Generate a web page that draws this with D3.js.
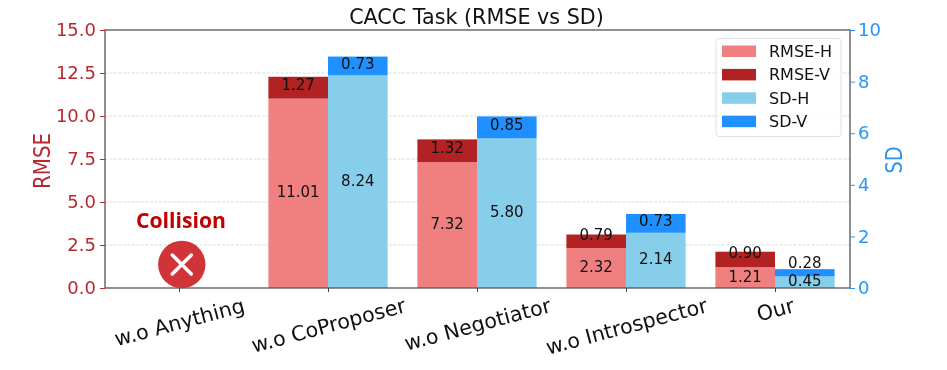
<!DOCTYPE html>
<html>
<head>
<meta charset="utf-8">
<style>
  html, body { margin: 0; padding: 0; background: #fff; }
  /* the reference is a soft, rescaled screenshot */
  svg { display: block; filter: blur(0.4px); }
  text { font-family: "DejaVu Sans", sans-serif; }
  .grid line { stroke: #dcdcdc; stroke-width: 1px; stroke-dasharray: 3,1.5; }
  .spine { fill: none; stroke: #555; stroke-width: 1.3px; }
</style>
</head>
<body>
<svg width="947" height="370"></svg>
<script src="https://d3js.org/d3.v7.min.js"></script>
<script>

var categories = ["w.o Anything", "w.o CoProposer", "w.o Negotiator", "w.o Introspector", "Our"];

// no bars for the first one, it collided
var rmseH = [null, 11.01, 7.32, 2.32, 1.21];
var rmseV = [null, 1.27, 1.32, 0.79, 0.90];
var sdH = [null, 8.24, 5.80, 2.14, 0.45];
var sdV = [null, 0.73, 0.85, 0.73, 0.28];

var rmseTicks = [0, 2.5, 5, 7.5, 10, 12.5, 15];
var sdTicks = [0, 2, 4, 6, 8, 10];

var legendLabels = ["RMSE-H", "RMSE-V", "SD-H", "SD-V"];
var legendColours = ["#f08080", "#b22222", "#87ceeb", "#1e90ff"];

var rmseColour = "#b8292f";
var sdColour = "#2b95f5";

var svg = d3.select("svg");

// plot edges (window.top is taken, so prefix them)
var plotLeft = 105, plotRight = 850, plotTop = 30, plotBottom = 288;

var x = d3.scaleLinear().domain([-0.5, 4.5]).range([plotLeft - 0.5, plotRight - 0.5]);
var yRmse = d3.scaleLinear().domain([0, 15]).range([plotBottom, plotTop]);
var ySd = d3.scaleLinear().domain([0, 10]).range([plotBottom, plotTop]);

var barWidth = 0.4;

// gridlines
svg.append("g")
    .attr("class", "grid")
    .selectAll("line")
    .data(rmseTicks.slice(1, -1))
    .enter().append("line")
    .attr("x1", plotLeft)
    .attr("x2", plotRight)
    .attr("y1", function(d) { return yRmse(d); })
    .attr("y2", function(d) { return yRmse(d); });

// draws one stacked pair of segments plus its labels
function drawStack(lower, upper, scale, offset, lowColour, upColour) {
  var g = svg.append("g");
  var idx = d3.range(categories.length).filter(function(i) { return lower[i] !== null; });

  g.selectAll(".low")
      .data(idx)
      .enter().append("rect")
      .attr("x", function(i) { return x(i + offset); })
      .attr("width", x(barWidth) - x(0))
      .attr("y", function(i) { return scale(lower[i]); })
      .attr("height", function(i) { return scale(0) - scale(lower[i]); })
      .style("fill", lowColour);

  g.selectAll(".up")
      .data(idx)
      .enter().append("rect")
      .attr("x", function(i) { return x(i + offset); })
      .attr("width", x(barWidth) - x(0))
      .attr("y", function(i) { return scale(lower[i] + upper[i]); })
      .attr("height", function(i) { return scale(lower[i]) - scale(lower[i] + upper[i]); })
      .style("fill", upColour);
}

drawStack(rmseH, rmseV, yRmse, -barWidth, legendColours[0], legendColours[1]);
drawStack(sdH, sdV, ySd, 0, legendColours[2], legendColours[3]);

// bar labels sit in the segment middle, the thin ones were pushed up by hand
function drawLabels(lower, upper, scale, offset, nudge) {
  var g = svg.append("g")
      .style("font-size", "15px")
      .style("fill", "#111")
      .attr("text-anchor", "middle");

  d3.range(categories.length).forEach(function(i) {
    if (lower[i] === null) return;
    var cx = x(i + offset + barWidth / 2);
    g.append("text")
        .attr("x", cx)
        .attr("y", scale(lower[i] / 2) + 4)
        .text(lower[i].toFixed(2));
    g.append("text")
        .attr("x", cx)
        .attr("y", scale(lower[i] + upper[i] / 2) + 4 + nudge[i])
        .text(upper[i].toFixed(2));
  });
}

drawLabels(rmseH, rmseV, yRmse, -barWidth, [0, -2, -2, -5, -5]);
drawLabels(sdH, sdV, ySd, 0, [0, -1, -1, -1, -9]);

// frame
svg.append("rect")
    .attr("class", "spine")
    .attr("x", plotLeft)
    .attr("y", plotTop)
    .attr("width", plotRight - plotLeft)
    .attr("height", plotBottom - plotTop);

// axes
var axisLeft = svg.append("g")
    .attr("transform", "translate(" + plotLeft + ",0)")
    .call(d3.axisLeft(yRmse).tickValues(rmseTicks).tickFormat(d3.format(".1f")).tickSize(5).tickPadding(4));
axisLeft.select(".domain").remove();
axisLeft.selectAll("line").style("stroke", rmseColour);
axisLeft.selectAll("text").style("fill", rmseColour).style("font-size", "18px");

var axisRight = svg.append("g")
    .attr("transform", "translate(" + plotRight + ",0)")
    .call(d3.axisRight(ySd).tickValues(sdTicks).tickSize(5).tickPadding(3));
axisRight.select(".domain").remove();
axisRight.selectAll("line").style("stroke", sdColour);
axisRight.selectAll("text").style("fill", sdColour).style("font-size", "18px");

var axisBottom = svg.append("g")
    .attr("transform", "translate(0," + plotBottom + ")")
    .call(d3.axisBottom(x).tickValues(d3.range(categories.length)).tickFormat(function(d) { return categories[d]; }).tickSize(4));
axisBottom.select(".domain").remove();
axisBottom.selectAll("line").style("stroke", "#444");

// rotated labels hang from a common top edge, so short ones sit higher
var tiltSin = Math.sin(15 * Math.PI / 180);
axisBottom.selectAll("text")
    .style("fill", "#111")
    .style("font-size", "20.7px")
    .attr("text-anchor", "middle")
    .attr("y", 0)
    .attr("dy", "0.35em")
    .attr("transform", function() {
      var drop = 9 + (this.getComputedTextLength() * tiltSin + 15.5) / 2;
      return "translate(0," + drop + ") rotate(-15)";
    });

// titles
svg.append("text")
    .attr("x", 476.5)
    .attr("y", 24)
    .attr("text-anchor", "middle")
    .style("font-size", "20.7px")
    .style("fill", "#111")
    .text("CACC Task (RMSE vs SD)");

// the side titles are squashed along their length in the reference
svg.append("text")
    .attr("transform", "translate(49.5,161) rotate(-90)")
    .attr("text-anchor", "middle")
    .attr("textLength", 56)
    .attr("lengthAdjust", "spacingAndGlyphs")
    .style("font-size", "23px")
    .style("fill", rmseColour)
    .text("RMSE");

svg.append("text")
    .attr("transform", "translate(902,160) rotate(-90)")
    .attr("text-anchor", "middle")
    .attr("textLength", 27)
    .attr("lengthAdjust", "spacingAndGlyphs")
    .style("font-size", "23px")
    .style("fill", sdColour)
    .text("SD");

// collision marker
svg.append("text")
    .attr("x", 181)
    .attr("y", 228)
    .attr("text-anchor", "middle")
    .attr("textLength", 90)
    .attr("lengthAdjust", "spacingAndGlyphs")
    .style("font-family", "'Open Sans', 'Noto Sans', sans-serif")
    .style("font-weight", "700")
    .style("font-size", "22px")
    .style("fill", "#c00000")
    .text("Collision");

var marker = svg.append("g").attr("transform", "translate(181.8,264.5)");
marker.append("circle").attr("r", 23.7).style("fill", "#d13438");
marker.append("path")
    .attr("d", "M-9.5,-9.5L9.5,9.5M9.5,-9.5L-9.5,9.5")
    .style("stroke", "#fff")
    .style("stroke-width", "3.5px")
    .style("stroke-linecap", "round");

// legend
var legend = svg.append("g");

legend.append("rect")
    .attr("x", 716)
    .attr("y", 38.5)
    .attr("width", 125)
    .attr("height", 98)
    .attr("rx", 3)
    .style("fill", "#fff")
    .style("fill-opacity", 0.85)
    .style("stroke", "#e0e0e0")
    .style("stroke-width", "1px");

var rows = legend.selectAll(".row")
    .data(legendLabels)
    .enter().append("g")
    .attr("transform", function(d, i) { return "translate(0," + (51 + i * 23.4) + ")"; });

rows.append("rect")
    .attr("x", 722)
    .attr("y", -5.5)
    .attr("width", 34)
    .attr("height", 11.5)
    .style("fill", function(d, i) { return legendColours[i]; });

rows.append("text")
    .attr("x", 769)
    .attr("y", 6)
    .style("font-size", "16px")
    .style("fill", "#111")
    .text(function(d) { return d; });

</script>
</body>
</html>
